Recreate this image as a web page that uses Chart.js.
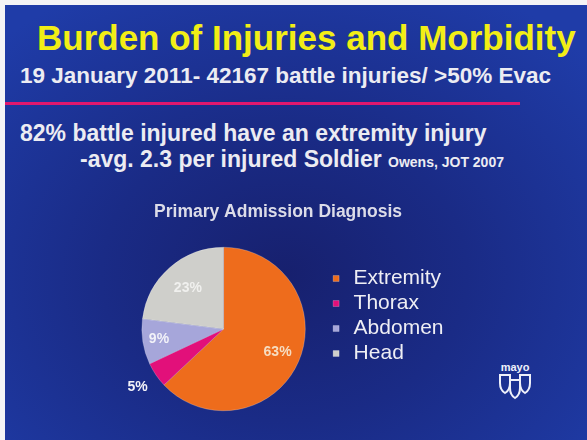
<!DOCTYPE html>
<html>
<head>
<meta charset="utf-8">
<script src="https://cdn.jsdelivr.net/npm/chart.js@4.4.1/dist/chart.umd.min.js"></script>
<style>
  html, body { margin: 0; padding: 0; background: #f4f4f6; }
  body { width: 587px; height: 440px; position: relative; overflow: hidden; font-family: "Liberation Sans", Arial, sans-serif; }
  #slide {
    position: absolute; left: 5px; top: 5px; width: 582px; height: 435px;
    background: radial-gradient(ellipse 70% 75% at 48% 62%, #17206e 0%, #1a2b86 45%, #1f3ca8 100%);
  }
  .txt { position: absolute; white-space: nowrap; font-weight: bold; line-height: 1; }
  #title { left: 32px; top: 15px; font-size: 35px; color: #f2ee16; }
  #line2 { left: 15px; top: 60px; font-size: 22.5px; color: #ececf2; }
  #rule { position: absolute; left: 0; top: 97px; width: 515px; height: 3px; background: #e0186e; }
  #line3 { left: 15px; top: 117px; font-size: 23px; color: #ececf2; }
  #line4 { left: 75px; top: 143px; font-size: 23px; color: #ececf2; }
  #line4 span { font-size: 14px; }
  #chartBox { position: absolute; left: 110px; top: 190px; width: 340px; height: 230px; }
  #logo { position: absolute; left: 490px; top: 355px; }
</style>
</head>
<body>
<div id="slide">
  <div class="txt" id="title">Burden of Injuries and Morbidity</div>
  <div class="txt" id="line2">19 January 2011- 42167 battle injuries/ &gt;50% Evac</div>
  <div id="rule"></div>
  <div class="txt" id="line3">82% battle injured have an extremity injury</div>
  <div class="txt" id="line4">-avg. 2.3 per injured Soldier <span>Owens, JOT 2007</span></div>
  <div id="chartBox"><canvas id="myChart" width="340" height="230"></canvas></div>
  <svg id="logo" width="40" height="45" viewBox="0 0 40 45">
    <text x="20" y="11" text-anchor="middle" font-family="Liberation Sans, Arial" font-weight="bold" font-size="11" fill="#eef0fa">mayo</text>
    <g fill="none" stroke="#eef0fa" stroke-width="2">
      <path d="M5 15 h10 v8 q0 7 -5 10 q-5 -3 -5 -10 z"/>
      <path d="M25 15 h10 v8 q0 7 -5 10 q-5 -3 -5 -10 z"/>
      <path d="M15 20 h10 v8 q0 7 -5 10 q-5 -3 -5 -10 z"/>
    </g>
  </svg>
</div>
<script>
// dati del grafico
const categories = ['Extremity', 'Thorax', 'Abdomen', 'Head'];
const percentages = [63, 5, 9, 23];
const sliceColors = ['#ee6c1c', '#e2107a', '#a6a6da', '#cfcfcb'];
const labelColors = ['#f6dcc0', '#f2f2f8', '#f2f2f8', '#f0f0ee'];

// etichette percentuali sulle fette
const sliceLabels = {
  id: 'sliceLabels',
  afterDatasetsDraw(chart, args, opts) {
    const ctx = chart.ctx;
    const meta = chart.getDatasetMeta(0);
    ctx.save();
    ctx.font = 'bold 14px "Liberation Sans", Arial, sans-serif';
    ctx.textAlign = 'center';
    ctx.textBaseline = 'middle';
    meta.data.forEach((arc, i) => {
      const p = arc.getProps(['x', 'y', 'startAngle', 'endAngle', 'outerRadius']);
      const mid = (p.startAngle + p.endAngle) / 2;
      const r = p.outerRadius * opts.radius[i];
      ctx.fillStyle = opts.colors[i];
      ctx.fillText(percentages[i] + '%', p.x + Math.cos(mid) * r, p.y + Math.sin(mid) * r);
    });
    ctx.restore();
  }
};

const ctx = document.getElementById('myChart').getContext('2d');
const data = {
  labels: categories,
  datasets: [{
    data: percentages,
    backgroundColor: sliceColors,
    borderColor: 'rgba(255,255,255,0.45)',
    borderWidth: 0.5
  }]
};

var options = {
  responsive: false,
  animation: false,
  layout: { padding: { left: 7, right: 1.5, top: 0, bottom: 14 } },
  plugins: {
    title: {
      display: true,
      // spazi finali: spostano il titolo un po' a sinistra
      text: 'Primary Admission Diagnosis    ',
      color: '#dcdce8',
      font: { family: '"Liberation Sans", Arial, sans-serif', size: 17.5, weight: 'bold' },
      padding: { top: 7, bottom: 24 }
    },
    legend: {
      position: 'right',
      align: 'start',
      // spazio vuoto sopra le voci della legenda
      title: { display: true, text: '', padding: { top: 52, bottom: 0 }, font: { size: 17, lineHeight: 1 } },
      labels: {
        usePointStyle: true,
        pointStyle: 'rect',
        boxWidth: 14,
        boxHeight: 6,
        padding: 4,
        color: '#eeeef4',
        font: { family: '"Liberation Sans", Arial, sans-serif', size: 21 }
      }
    },
    tooltip: { enabled: false },
    sliceLabels: { radius: [0.72, 1.27, 0.8, 0.66], colors: labelColors }
  }
};

var myChart = new Chart(ctx, {
  type: 'pie',
  data: data,
  options: options,
  plugins: [sliceLabels]
});
</script>
</body>
</html>
